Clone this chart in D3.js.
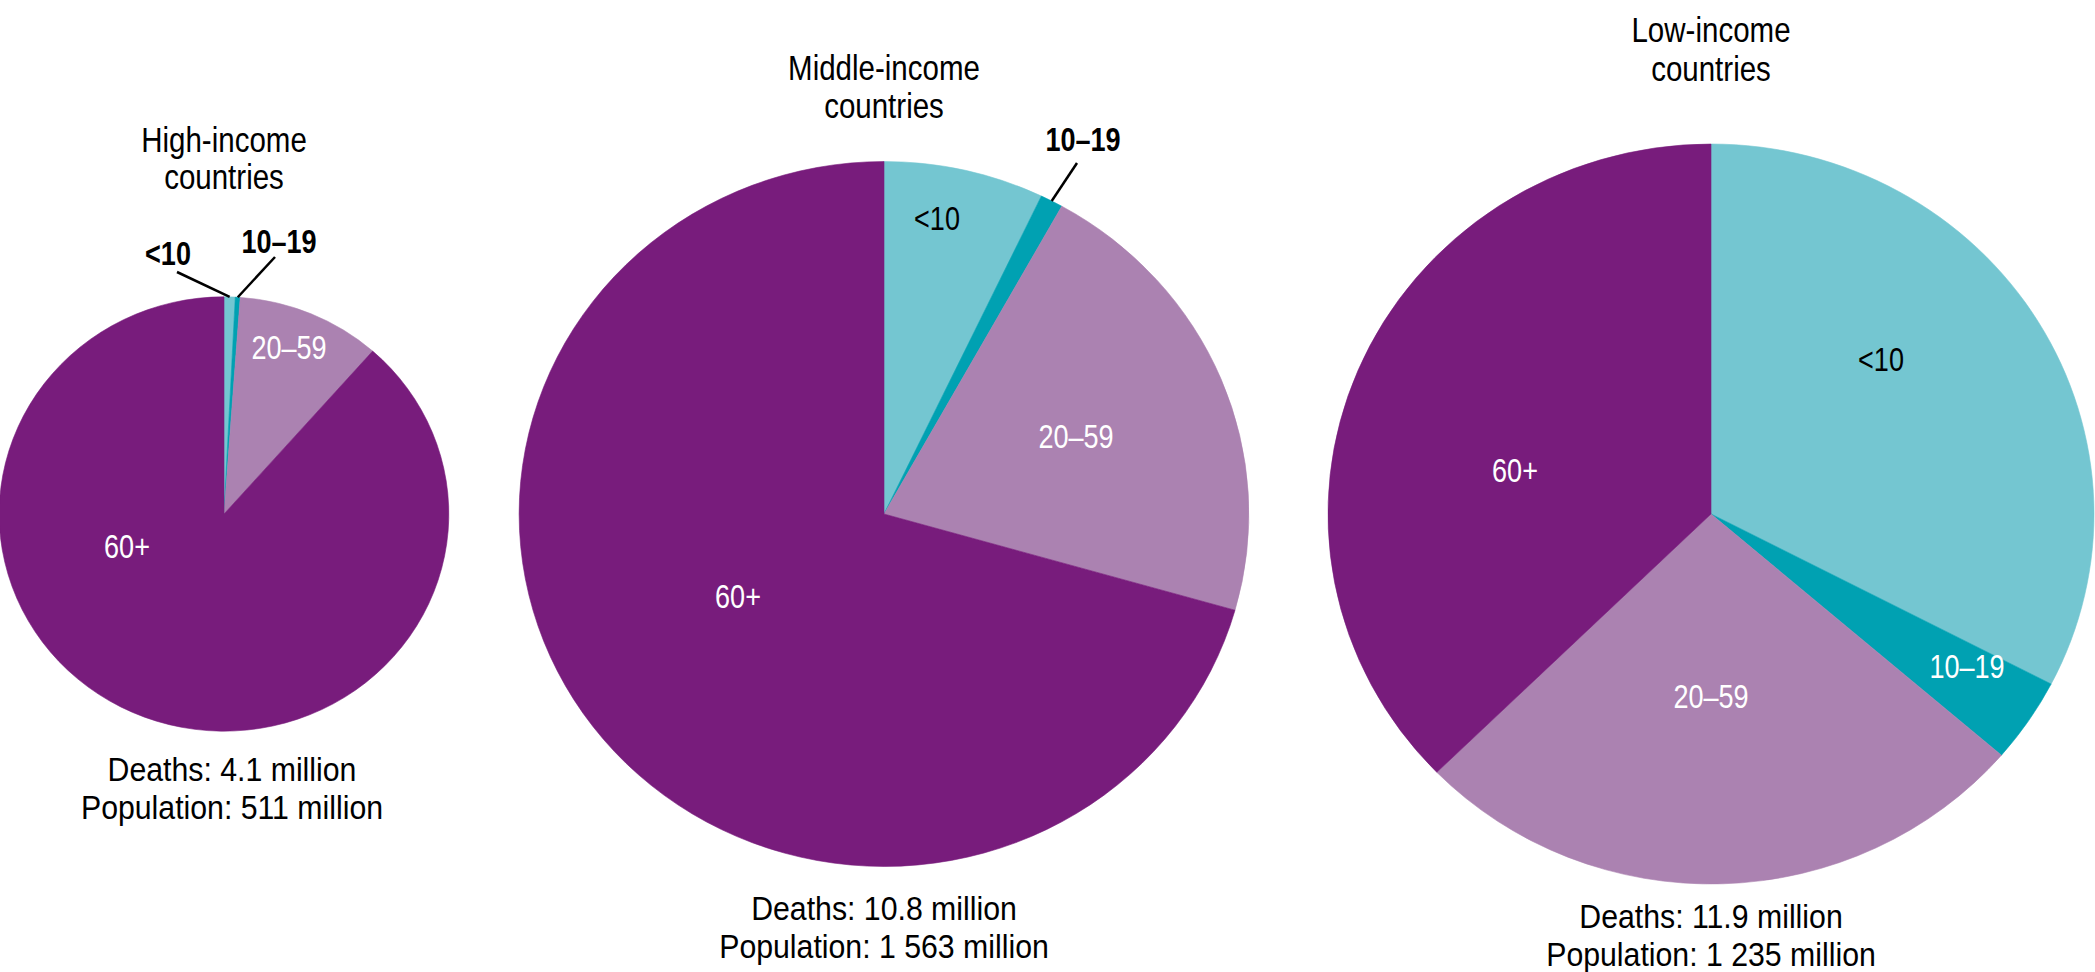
<!DOCTYPE html>
<html>
<head>
<meta charset="utf-8">
<script src="https://cdn.jsdelivr.net/npm/d3@7"></script>
<style>
  body { margin: 0; background: #fff; }
  svg { display: block; }
  text { font-family: "Liberation Sans", Arial, sans-serif; }
</style>
</head>
<body>
<svg width="2095" height="972"></svg>
<script>
// age groups and their shares of deaths (%), one array per income group
var ageGroups = ["<10", "10\u201319", "20\u201359", "60+"];
var incomeGroups = ["High-income", "Middle-income", "Low-income"];
var highShares = [0.8, 0.35, 10.35, 88.5];
var middleShares = [7.1, 1.0, 21.3, 70.6];
var lowShares = [32.6, 3.7, 26.4, 37.3];
var deathsMillions = [4.1, 10.8, 11.9];
var populationMillions = ["511", "1 563", "1 235"];

var sliceColours = ["#74c6d1", "#00a1b2", "#ab82b1", "#781c7c"];

function main() {
  var svg = d3.select("svg");
  var squash = 0.966;   // the original pies are a touch flatter than round

  var rScale = d3.scaleSqrt().domain([0, d3.max(deathsMillions)]).range([0, 383]);
  var colour = d3.scaleOrdinal().domain(ageGroups).range(sliceColours);
  var pie = d3.pie().sort(null).value(function(d) { return d.share; });
  var fmt = d3.format(".1f");

  // squeeze the type so it looks like a narrow face
  function at(x, y, sx) {
    return "translate(" + x + "," + y + ") scale(" + (sx || 0.82) + ",1)";
  }

  // placement of each pie and its texts (offsets are from the pie centre)
  var layout = [
    { cx: 224, cy: 514, titleY: [152, 189], footX: 232, footY: [781, 819],
      labels: {
        "<10":    { dx: -56, dy: -249, fill: "#000", weight: "bold", leader: [-47, -242] },
        "10\u201319": { dx: 55, dy: -261, fill: "#000", weight: "bold", leader: [51, -257] },
        "20\u201359": { dx: 65, dy: -155, fill: "#fff" },
        "60+":    { dx: -97, dy: 44, fill: "#fff" }
      } },
    { cx: 884, cy: 514, titleY: [80, 118], footX: 884, footY: [920, 958],
      labels: {
        "<10":    { dx: 53, dy: -284, fill: "#000" },
        "10\u201319": { dx: 199, dy: -363, fill: "#000", weight: "bold", leader: [193, -351] },
        "20\u201359": { dx: 192, dy: -66, fill: "#fff" },
        "60+":    { dx: -146, dy: 94, fill: "#fff" }
      } },
    { cx: 1711, cy: 514, titleY: [42, 81], footX: 1711, footY: [928, 966],
      labels: {
        "<10":    { dx: 170, dy: -143, fill: "#000" },
        "10\u201319": { dx: 256, dy: 164, fill: "#fff" },
        "20\u201359": { dx: 0, dy: 194, fill: "#fff" },
        "60+":    { dx: -196, dy: -32, fill: "#fff" }
      } }
  ];

  var allShares = [highShares, middleShares, lowShares];

  incomeGroups.forEach(function(name, i) {
    var L = layout[i];
    var r = rScale(deathsMillions[i]);
    var data = ageGroups.map(function(a, j) { return { age: a, share: allShares[i][j] }; });
    var arcs = pie(data);
    var arc = d3.arc().innerRadius(0).outerRadius(r);

    var g = svg.append("g")
      .attr("transform", "translate(" + L.cx + "," + L.cy + ")");

    g.append("g")
      .attr("transform", "scale(1," + squash + ")")
      .selectAll("path")
      .data(arcs)
      .enter().append("path")
      .attr("d", arc)
      .attr("fill", function(d) { return colour(d.data.age); })
      .attr("stroke", function(d) { return colour(d.data.age); })
      .attr("stroke-width", 0.6);

    // leader lines for the thin slices
    arcs.forEach(function(d) {
      var lb = L.labels[d.data.age];
      if (!lb.leader) return;
      var a = (d.startAngle + d.endAngle) / 2;
      g.append("line")
        .attr("x1", lb.leader[0])
        .attr("y1", lb.leader[1])
        .attr("x2", r * Math.sin(a))
        .attr("y2", -r * Math.cos(a) * squash)
        .attr("stroke", "#000")
        .attr("stroke-width", 2.5);
    });

    g.selectAll(".slice-label")
      .data(arcs)
      .enter().append("text")
      .attr("class", "slice-label")
      .attr("transform", function(d) {
        var lb = L.labels[d.data.age];
        return at(lb.dx, lb.dy);
      })
      .attr("text-anchor", "middle")
      .style("font-size", "33px")
      .style("font-weight", function(d) { return L.labels[d.data.age].weight || "normal"; })
      .attr("fill", function(d) { return L.labels[d.data.age].fill; })
      .text(function(d) { return d.data.age; });

    // title
    var title = [name, "countries"];
    svg.selectAll(".title" + i)
      .data(title)
      .enter().append("text")
      .attr("class", "title" + i)
      .attr("transform", function(d, k) { return at(L.cx, L.titleY[k]); })
      .attr("text-anchor", "middle")
      .style("font-size", "36px")
      .attr("fill", "#000")
      .text(function(d) { return d; });

    // footer
    var foot = ["Deaths: " + fmt(deathsMillions[i]) + " million",
                "Population: " + populationMillions[i] + " million"];
    svg.selectAll(".foot" + i)
      .data(foot)
      .enter().append("text")
      .attr("class", "foot" + i)
      .attr("transform", function(d, k) { return at(L.footX, L.footY[k], 0.89); })
      .attr("text-anchor", "middle")
      .style("font-size", "34px")
      .attr("fill", "#000")
      .text(function(d) { return d; });
  });
}
main();
</script>
</body>
</html>
